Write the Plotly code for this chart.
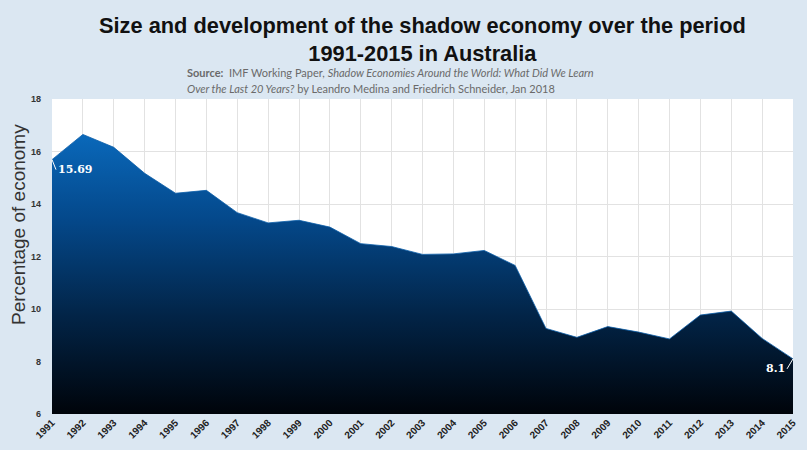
import plotly.graph_objects as go

years = list(range(1991, 2016))
shadow_pct = [15.69, 16.65, 16.16, 15.17, 14.41, 14.52, 13.67, 13.28, 13.38, 13.12,
              12.49, 12.38, 12.08, 12.10, 12.23, 11.66, 9.26, 8.92, 9.33, 9.12,
              8.86, 9.77, 9.92, 8.88, 8.10]
y_ticks = [6, 8, 10, 12, 14, 16, 18]

title_text = "<b>Size and development of the shadow economy over the period<br>1991-2015 in Australia</b>"
source_line1 = "<b>Source:</b>  IMF Working Paper, <i>Shadow Economies Around the World: What Did We Learn</i>"
source_line2 = "<i>Over the Last 20 Years?</i> by Leandro Medina and Friedrich Schneider, Jan 2018"
y_title = "Percentage of economy"

fig = go.Figure()
fig.add_trace(go.Scatter(
    x=years, y=shadow_pct, mode="lines", fill="tozeroy",
    line=dict(width=0.8, color="#0a5da8"),
    fillgradient=dict(type="vertical", start=6, stop=16.7,
                      colorscale=[[0, "#00040a"], [0.35, "#022447"], [0.7, "#04498c"], [1, "#0a69bb"]]),
    hoverinfo="x+y", showlegend=False,
))

fig.add_annotation(x=years[0], y=shadow_pct[0], text="<b>15.69</b>", showarrow=True,
                   arrowhead=0, arrowwidth=1, arrowcolor="white", ax=4, ay=10,
                   xanchor="left", yanchor="middle",
                   font=dict(family="DejaVu Serif", size=11, color="white"))
fig.add_annotation(x=years[-1], y=shadow_pct[-1], text="<b>8.1</b>", showarrow=True,
                   arrowhead=0, arrowwidth=1, arrowcolor="white", ax=-6, ay=10,
                   xanchor="right", yanchor="middle",
                   font=dict(family="DejaVu Serif", size=11, color="white"))

fig.add_annotation(xref="paper", yref="paper", x=0.5, y=1.0, yshift=88, text=title_text,
                   showarrow=False, xanchor="center", yanchor="top",
                   font=dict(family="Liberation Sans", size=21.8, color="#111111"))
fig.add_annotation(xref="paper", yref="paper", x=0.1795, y=1.0, yshift=18, text=source_line1,
                   showarrow=False, xanchor="left", yanchor="bottom",
                   font=dict(family="Lato", size=11, color="#6a6a6a"))
fig.add_annotation(xref="paper", yref="paper", x=0.1795, y=1.0, yshift=2, text=source_line2,
                   showarrow=False, xanchor="left", yanchor="bottom",
                   font=dict(family="Lato", size=11, color="#6a6a6a"))
fig.add_annotation(xref="paper", yref="paper", x=0, xshift=-34, y=0.6, text=y_title,
                   textangle=-90, showarrow=False, xanchor="center", yanchor="middle",
                   font=dict(family="Liberation Sans", size=19, color="#333333"))

fig.update_layout(
    width=807, height=450,
    margin=dict(l=52, r=14, t=99, b=36),
    paper_bgcolor="#dbe7f2", plot_bgcolor="white",
    font=dict(family="Liberation Sans", color="#333333"),
    xaxis=dict(range=[1991, 2015], tickmode="array", tickvals=years,
               ticktext=[f"<b>{y}</b>" for y in years], tickangle=-45,
               tickfont=dict(size=10, color="#222222"), showgrid=True,
               gridcolor="#e2e2e2", gridwidth=1, zeroline=False, showline=False,
               ticks="", fixedrange=True, automargin=False),
    yaxis=dict(range=[6, 18], tickmode="array", tickvals=y_ticks,
               ticktext=[f"<b>{v}</b>" for v in y_ticks],
               tickfont=dict(size=9, color="#333333"), showgrid=True,
               gridcolor="#e2e2e2", gridwidth=1, zeroline=False, showline=False,
               ticks="", ticklabelstandoff=10, automargin=False),
)

fig.write_html("out.html", config={"displayModeBar": False},
               post_script="document.body.style.margin='0';")
